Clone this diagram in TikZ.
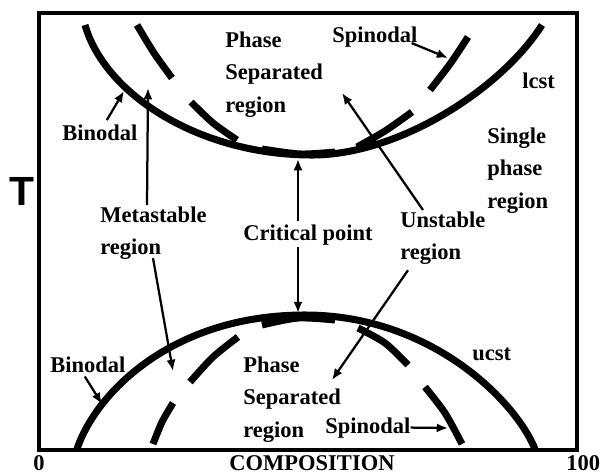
\documentclass[tikz,border=0pt]{standalone}
\usepackage{fontspec}
\setmainfont{Liberation Serif}
\newfontfamily\axisfont{Liberation Sans}
\usetikzlibrary{arrows.meta, positioning, calc}

\begin{document}
\begin{tikzpicture}[
    x=0.025cm, y=-0.025cm,
    region text/.style={
        font=\bfseries\fontsize{16}{22.8}\selectfont,
        inner sep=0pt,
        align=left,
    },
    binodal line/.style={line width=5pt},
    spinodal line/.style={line width=5pt},
    pointer/.style={line width=1.6pt, -{Latex[length=8pt,width=6.5pt]}},
]
\useasboundingbox (0,0) rectangle (600,475);
\draw[line width=3pt] (39,13) rectangle (577,450);

% binodals
\draw[binodal line] (85,25) .. controls (105,95) and (200,155) .. (312,155)
    .. controls (400,155) and (502,88) .. (542,25);
\draw[binodal line] (77,449) .. controls (95,395) and (170,315) .. (305,315)
    .. controls (430,315) and (515,400) .. (535,449);

% spinodals, one dash at a time
\draw[spinodal line] plot[smooth] coordinates {(137,25) (154,53) (172,78)};
\draw[spinodal line] plot[smooth] coordinates {(191,102) (213,123) (237,140)};
\draw[spinodal line] plot[smooth] coordinates {(262,149) (300,154) (335,152)};
\draw[spinodal line] plot[smooth] coordinates {(357,147) (385,131) (412,112)};
\draw[spinodal line] plot[smooth] coordinates {(430,90) (450,64) (468,37)};

\draw[spinodal line] plot[smooth] coordinates {(153,444) (162,422) (173,403)};
\draw[spinodal line] plot[smooth] coordinates {(190,382) (213,357) (238,337)};
\draw[spinodal line] plot[smooth] coordinates {(262,325) (298,318) (335,320)};
\draw[spinodal line] plot[smooth] coordinates {(358,328) (385,343) (408,365)};
\draw[spinodal line] plot[smooth] coordinates {(425,387) (445,413) (462,444)};

% labels
\node[region text, anchor=north west] (upphase) at (225,32) {Phase\\Separated\\region};
\node[region text, anchor=base west] (upspin) at (332,42) {Spinodal};
\node[region text, anchor=base west] (lcst) at (522,88) {lcst};
\node[region text, anchor=north west] (single) at (487,128) {Single\\phase\\region};
\node[region text, anchor=base west] (upbin) at (62,140) {Binodal};
\node[region text, anchor=north west] (meta) at (100,207) {Metastable\\region};
\node[region text, anchor=base west] (crit) at (243,240) {Critical point};
\node[region text, anchor=north west] (unst) at (400,212) {Unstable\\region};
\node[region text, anchor=base west] (lowbin) at (50,372) {Binodal};
\node[region text, anchor=north west] (lowphase) at (243,357) {Phase\\Separated\\region};
\node[region text, anchor=base west] (ucst) at (472,360) {ucst};
\node[region text, anchor=base west] (lowspin) at (325,433) {Spinodal};
\node[region text, anchor=base west] (zero) at (33,470) {0};
\node[region text, anchor=base] (comp) at (312,470) {COMPOSITION};
\node[region text, anchor=base west] (hundred) at (566,470) {100};
\node[font=\axisfont\bfseries\fontsize{29}{29}\selectfont, inner sep=0pt, anchor=base west] (temp) at (9,205) {T};

% points on the curves
\coordinate (upbinpt) at (124,91);
\coordinate (upmeta) at (148,88);
\coordinate (lowmeta) at (173,371);
\coordinate (upcrit) at (298,159);
\coordinate (lowcrit) at (298,313);
\coordinate (upunst) at (342,93);
\coordinate (lowunst) at (332,380);
\coordinate (upspinpt) at (448,58);
\coordinate (lowspinpt) at (448,428);
\coordinate (lowbinpt) at (102,404);

% arrows
\draw[pointer] ($(upbin.north)+(7,-4)$) -- (upbinpt);
\draw[pointer] ($(meta.north west)+(47,-2)$) -- (upmeta);
\draw[pointer] ($(meta.south west)+(53,-2)$) -- (lowmeta);
\draw[pointer] ($(crit.north west)+(55,-3)$) -- (upcrit);
\draw[pointer] ($(crit.south west)+(55,2)$) -- (lowcrit);
\draw[pointer] ($(unst.north west)+(23,-2)$) -- (upunst);
\draw[pointer] ($(unst.south west)+(8,5)$) -- (lowunst);
\draw[pointer] ($(upspin.south east)+(-6,-4)$) -- (upspinpt);
\draw[pointer] (lowspin.east) -- (lowspinpt);
\draw[pointer] ($(lowbin.south)+(-3,4)$) -- (lowbinpt);
\end{tikzpicture}
\end{document}
